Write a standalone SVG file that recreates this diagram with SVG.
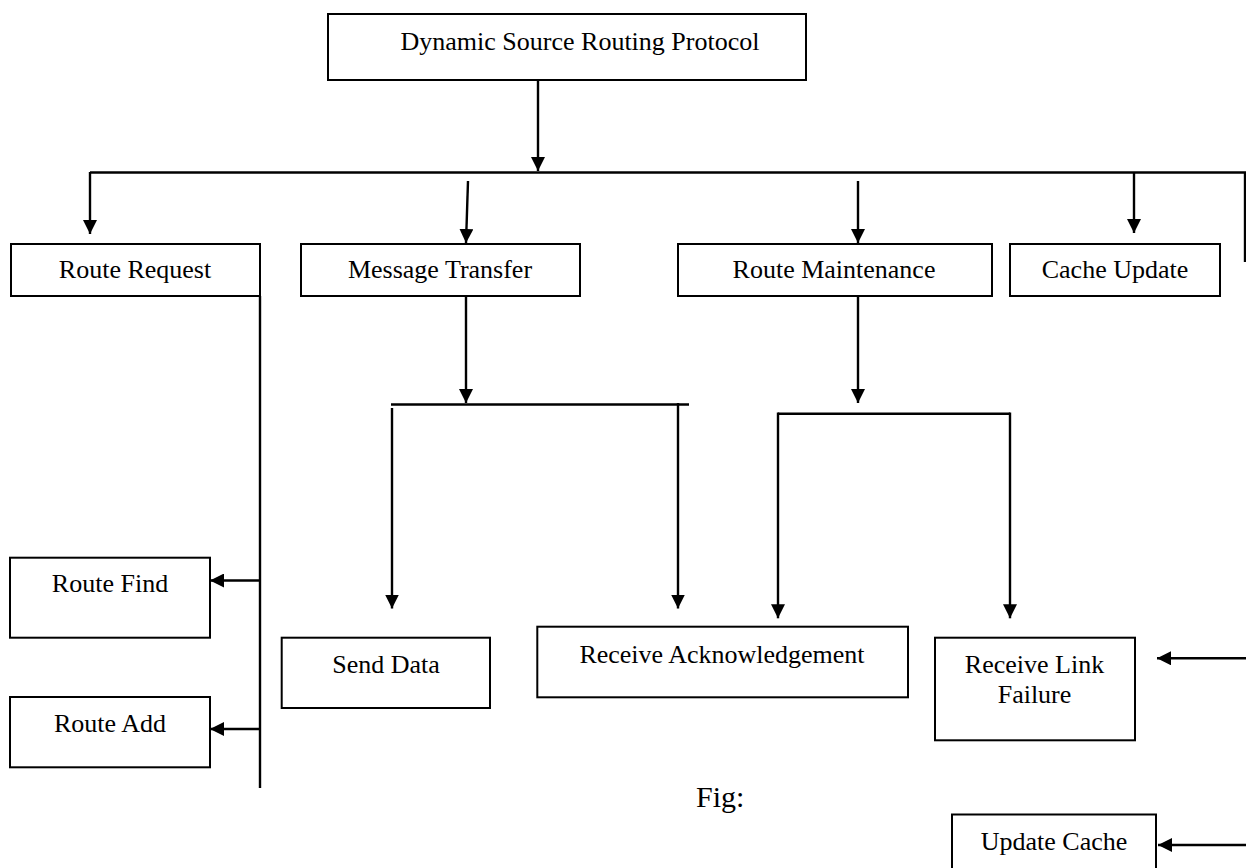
<svg xmlns="http://www.w3.org/2000/svg" width="1246" height="868" viewBox="0 0 1246 868">
<defs>
<style>
.box{fill:#fff;stroke:#000;stroke-width:2}
.t{font-family:"Liberation Serif","Times New Roman",serif;font-size:26px;fill:#000;text-anchor:middle}
.c{fill:none;stroke:#000;stroke-width:2.4}
.a{marker-end:url(#ah)}
</style>
<marker id="ah" viewBox="0 0 14 14" refX="14" refY="7" markerWidth="14" markerHeight="14" markerUnits="userSpaceOnUse" orient="auto">
<path d="M0,0 L14,7 L0,14 z" fill="#000"/>
</marker>
</defs>
<rect width="1246" height="868" fill="#fff"/>
<g id="connectors">
<line class="c a" x1="538" y1="80" x2="538" y2="171"/>
<line class="c" x1="90" y1="172.5" x2="1246" y2="172.5"/>
<line class="c" x1="1245" y1="172" x2="1245" y2="262"/>
<line class="c a" x1="90" y1="172" x2="90" y2="234"/>
<line class="c a" x1="468" y1="181" x2="466" y2="243"/>
<line class="c a" x1="858" y1="181" x2="858" y2="243"/>
<line class="c a" x1="1134" y1="172" x2="1134" y2="233"/>
<line class="c" x1="260" y1="296" x2="260" y2="788"/>
<line class="c a" x1="260" y1="580.5" x2="210" y2="580.5"/>
<line class="c a" x1="260" y1="729" x2="210" y2="729"/>
<line class="c a" x1="466" y1="296" x2="466" y2="403"/>
<line class="c" x1="391" y1="404.5" x2="689" y2="404.5"/>
<line class="c a" x1="392" y1="408" x2="392" y2="608.5"/>
<line class="c a" x1="678" y1="403" x2="678" y2="608.5"/>
<line class="c a" x1="858" y1="296" x2="858" y2="403"/>
<line class="c" x1="778" y1="413.7" x2="1010" y2="413.7"/>
<line class="c a" x1="778" y1="412.5" x2="778" y2="618.3"/>
<line class="c a" x1="1010" y1="412.5" x2="1010" y2="618.3"/>
<line class="c a" x1="1246" y1="658.3" x2="1157" y2="658.3"/>
<line class="c a" x1="1246" y1="845" x2="1158" y2="845"/>
</g>
<g id="dsr">
<rect class="box" x="328" y="14" width="478" height="66"/>
<text class="t" x="580" y="50">Dynamic Source Routing Protocol</text>
</g>
<g id="route-request">
<rect class="box" x="11" y="244" width="249" height="52"/>
<text class="t" x="135" y="278">Route Request</text>
</g>
<g id="message-transfer">
<rect class="box" x="301" y="244" width="279" height="52"/>
<text class="t" x="440" y="278">Message Transfer</text>
</g>
<g id="route-maintenance">
<rect class="box" x="678" y="244" width="314" height="52"/>
<text class="t" x="834" y="278">Route Maintenance</text>
</g>
<g id="cache-update">
<rect class="box" x="1010" y="244" width="210" height="52"/>
<text class="t" x="1115" y="278">Cache Update</text>
</g>
<g id="route-find">
<rect class="box" x="10" y="557.7" width="200" height="80"/>
<text class="t" x="110" y="592">Route Find</text>
</g>
<g id="route-add">
<rect class="box" x="10" y="697" width="200" height="70.3"/>
<text class="t" x="110" y="732">Route Add</text>
</g>
<g id="send-data">
<rect class="box" x="281.7" y="637.7" width="208.3" height="70.3"/>
<text class="t" x="386" y="672.5">Send Data</text>
</g>
<g id="receive-ack">
<rect class="box" x="537.3" y="626.7" width="370.7" height="70.6"/>
<text class="t" x="722" y="662.7">Receive Acknowledgement</text>
</g>
<g id="receive-link-failure">
<rect class="box" x="935" y="637.7" width="200" height="102.6"/>
<text class="t" x="1034.5" y="672.7">Receive Link</text>
<text class="t" x="1034.5" y="703">Failure</text>
</g>
<g id="update-cache">
<rect class="box" x="952" y="814.5" width="204" height="70"/>
<text class="t" x="1054" y="850">Update Cache</text>
</g>
<text x="696" y="806.7" font-family="Liberation Serif, Times New Roman, serif" font-size="30" fill="#000">Fig:</text>
</svg>
